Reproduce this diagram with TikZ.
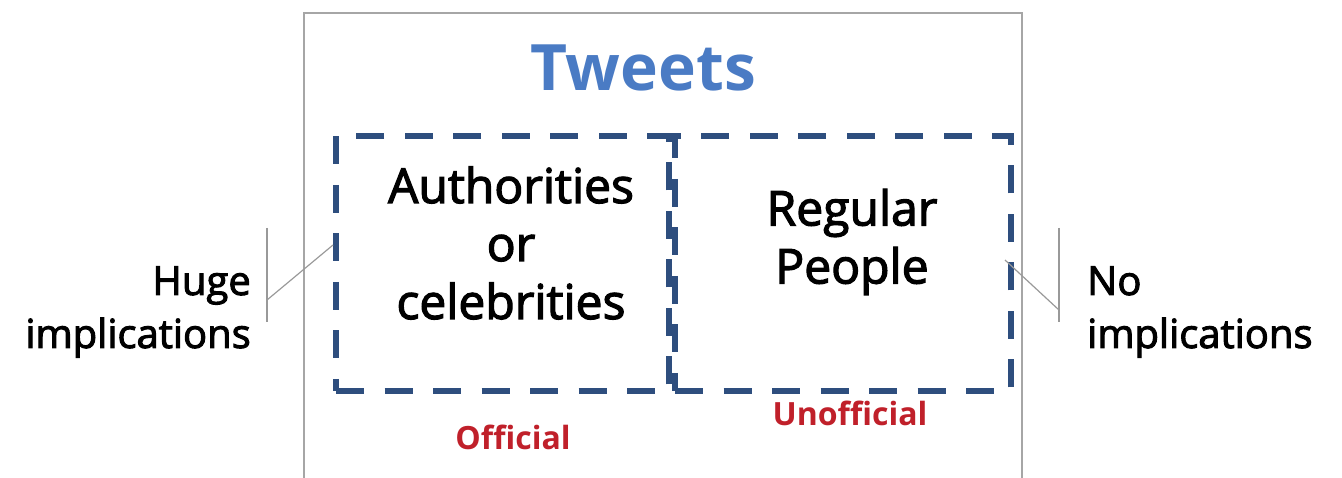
\documentclass[tikz,border=0pt]{standalone}
\usepackage{fontspec}
\setmainfont{Open Sans}
\newfontfamily\semifont{Open Sans}[FakeBold=2.5]
\definecolor{outergray}{HTML}{A6A6A6}
\definecolor{dashblue}{HTML}{2E4E7E}
\definecolor{titleblue}{HTML}{4A7BC4}
\definecolor{labelred}{HTML}{C0202A}
\begin{document}
\begin{tikzpicture}[x=1pt,y=-1pt,
  outer/.style={draw=outergray,line width=1.6pt},
  dbox/.style={draw=dashblue,line width=6pt,dash pattern=on 28pt off 20.5pt},
  callout/.style={draw=gray!80,line width=1.2pt},
  inbody/.style={font=\fontsize{48}{58}\semifont,align=center,inner sep=0pt},
  body/.style={font=\fontsize{40}{53}\semifont,inner sep=0pt},
  lab/.style={font=\fontsize{32}{34}\selectfont\bfseries,text=labelred,inner sep=0pt}]
\useasboundingbox (0,0) rectangle (1342,478);
\draw[outer] (304,490) -- (304,13) -- (1022,13) -- (1022,490);
\node[font=\fontsize{64}{70}\selectfont\bfseries,text=titleblue,inner sep=0pt] (title) at (643,68) {Tweets};
\node[dbox,minimum width=333pt,minimum height=255pt,anchor=north west] (left) at (333,133) {};
\node[dbox,minimum width=336pt,minimum height=255pt,anchor=north west] (right) at (672,133) {};
\node[inbody] (auth) at (511,243) {Authorities\\or\\celebrities};
\node[inbody] (reg) at (852,242) {Regular\\People};
\node[body,align=right,anchor=east] (huge) at (251,312) {Huge\\implications};
\node[body,align=left,anchor=west] (noimp) at (1087,312) {No\\implications};
\node[lab] (off) at (513,437) {Official};
\node[lab] (unoff) at (850,413) {Unofficial};
\coordinate (lv1) at (267,228); \coordinate (lv2) at (267,322); \coordinate (lvm) at (267,300);
\coordinate (lt) at (333,245);
\draw[callout] (lv1) -- (lv2);
\draw[callout] (lvm) -- (lt);
\coordinate (rv1) at (1059,228); \coordinate (rv2) at (1059,322); \coordinate (rvm) at (1059,310);
\coordinate (rt) at (1005,260);
\draw[callout] (rv1) -- (rv2);
\draw[callout] (rvm) -- (rt);
\end{tikzpicture}
\end{document}
